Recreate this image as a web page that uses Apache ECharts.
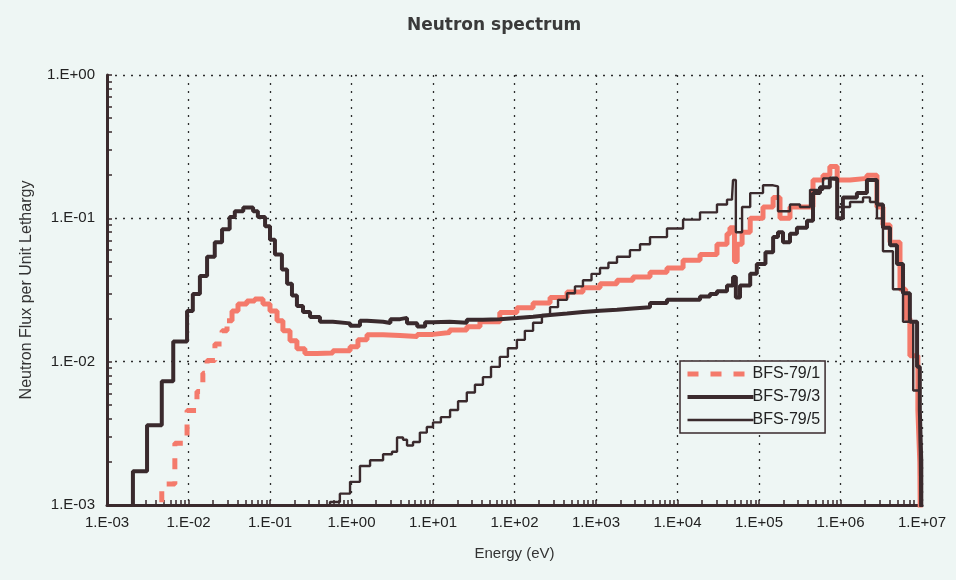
<!DOCTYPE html>
<html>
<head>
<meta charset="utf-8">
<script src="https://cdn.jsdelivr.net/npm/echarts@6/dist/echarts.min.js"></script>
<style>
  html, body { margin: 0; padding: 0; background: #eef6f4; }
  #chart { width: 956px; height: 580px; }
</style>
</head>
<body>
<div id="chart"></div>
<script>
// Axis tick labels (one per decade)
const energyTickLabels = ['1.E-03', '1.E-02', '1.E-01', '1.E+00', '1.E+01', '1.E+02',
                          '1.E+03', '1.E+04', '1.E+05', '1.E+06', '1.E+07'];
const fluxTickLabels = ['1.E-03', '1.E-02', '1.E-01', '1.E+00'];

const seriesNames = ['BFS-79/1', 'BFS-79/3', 'BFS-79/5'];

// BFS-79/1 : group left-edge energy (eV) and flux per unit lethargy
const bfs1Energy = [4.7e-3, 4.7e-3, 6.8e-3, 9.6e-3, 1.27e-2, 1.5e-2, 1.69e-2, 2.11e-2, 2.58e-2, 2.97e-2,
  3.42e-2, 4.05e-2, 5.2e-2, 6.5e-2, 8.2e-2, 0.1, 0.122, 0.144, 0.176, 0.214, 0.268, 0.377, 0.59, 0.96,
  1.2, 1.55, 2.44, 3.94, 6.4, 10, 16, 26, 37.7, 66, 107, 169, 273, 441, 692, 1120, 1810, 2840, 4600,
  7430, 1.17e4, 1.89e4, 3.05e4, 4.05e4, 4.4e4, 5.0e4, 5.4e4, 6.2e4, 7.8e4, 1.12e5, 1.49e5, 1.81e5,
  2.4e5, 3.47e5, 4.6e5, 6.1e5, 7.4e5, 9.1e5, 1.31e6, 2.11e6, 2.8e6, 3.32e6, 4.05e6, 5.37e6, 6.3e6,
  7.1e6, 8.9e6, 9.4e6, 9.6e6];
const bfs1Flux = [5e-4, 1.4e-3, 2.7e-3, 4.57e-3, 6.2e-3, 8.3e-3, 1.02e-2, 1.33e-2, 1.64e-2, 1.93e-2,
  2.26e-2, 2.53e-2, 2.65e-2, 2.74e-2, 2.53e-2, 2.26e-2, 1.93e-2, 1.64e-2, 1.4e-2, 1.23e-2, 1.14e-2,
  1.15e-2, 1.19e-2, 1.27e-2, 1.42e-2, 1.54e-2, 1.52e-2, 1.5e-2, 1.55e-2, 1.6e-2, 1.66e-2, 1.75e-2,
  1.9e-2, 2.2e-2, 2.38e-2, 2.57e-2, 2.8e-2, 3.06e-2, 3.28e-2, 3.5e-2, 3.7e-2, 3.9e-2, 4.2e-2, 4.5e-2,
  5.1e-2, 5.6e-2, 6.6e-2, 7.8e-2, 8.6e-2, 5.0e-2, 6.6e-2, 8.0e-2, 0.1, 0.12, 0.14, 0.1, 0.12, 0.12,
  0.185, 0.2, 0.23, 0.185, 0.19, 0.2, 0.12, 0.09, 0.068, 0.032, 0.02, 0.011, 0.0046, 0.002, 5e-4];
// thermal groups of BFS-79/1 drawn dashed, the rest solid
const bfs1DashedUpTo = 2.97e-2;

// BFS-79/3
const bfs3Energy = [2.08e-3, 2.08e-3, 3.1e-3, 4.7e-3, 6.5e-3, 9.6e-3, 1.13e-2, 1.38e-2, 1.69e-2, 2.1e-2,
  2.58e-2, 3.2e-2, 3.7e-2, 4.7e-2, 6.2e-2, 7.1e-2, 8.7e-2, 0.1, 0.115, 0.14, 0.162, 0.186, 0.214,
  0.254, 0.31, 0.41, 0.59, 0.96, 1.27, 1.55, 2.44, 3.0, 3.94, 4.8, 6.4, 8.0, 10, 16, 26, 41, 66, 107,
  169, 273, 441, 692, 1120, 1810, 2840, 4600, 7430, 1.17e4, 1.89e4, 2.5e4, 3.05e4, 4.05e4, 4.8e4,
  5.2e4, 5.85e4, 7.8e4, 9.4e4, 1.2e5, 1.49e5, 1.71e5, 1.97e5, 2.4e5, 2.92e5, 3.88e5, 4.6e5, 5.6e5,
  7.4e5, 9.1e5, 1.07e6, 1.59e6, 2.11e6, 2.8e6, 3.32e6, 4.05e6, 4.93e6, 5.85e6, 7.1e6, 8.7e6, 9.4e6,
  9.8e6, 9.8e6];
const bfs3Flux = [5e-4, 1.72e-3, 3.6e-3, 7.3e-3, 1.38e-2, 2.26e-2, 2.97e-2, 3.96e-2, 5.4e-2, 6.8e-2,
  8.4e-2, 0.102, 0.112, 0.119, 0.112, 0.102, 0.088, 0.071, 0.056, 0.044, 0.035, 0.029, 0.0245, 0.0222,
  0.0205, 0.019, 0.0185, 0.0178, 0.0193, 0.019, 0.0186, 0.0198, 0.0202, 0.0185, 0.0176, 0.0188, 0.019,
  0.0187, 0.0196, 0.0198, 0.0202, 0.0206, 0.0212, 0.0217, 0.0222, 0.0227, 0.023, 0.0235, 0.024,
  0.0257, 0.027, 0.027, 0.0285, 0.0296, 0.031, 0.034, 0.039, 0.028, 0.034, 0.041, 0.048, 0.058, 0.074,
  0.08, 0.068, 0.078, 0.086, 0.096, 0.15, 0.165, 0.19, 0.1, 0.14, 0.15, 0.185, 0.125, 0.086, 0.065,
  0.048, 0.03, 0.019, 0.0092, 0.0046, 0.002, 5e-4];

// BFS-79/5
const bfs5Energy = [0.545, 0.545, 0.72, 0.96, 1.27, 1.69, 2.44, 3.14, 3.62, 4.29, 4.8, 5.69, 6.9, 8.4,
  10, 12.5, 16.2, 20.3, 26, 32.7, 41, 51.5, 66, 83, 107, 134, 169, 217, 273, 342, 441, 552, 692, 881,
  1120, 1420, 1810, 2610, 3470, 4600, 7430, 1.17e4, 1.89e4, 3.05e4, 4.05e4, 4.67e4, 4.8e4, 5.2e4,
  6.2e4, 7.8e4, 1.12e5, 1.49e5, 1.71e5, 2.4e5, 3.18e5, 4.23e5, 6.1e5, 7.4e5, 9.1e5, 1.31e6, 1.89e6,
  2.3e6, 2.8e6, 3.32e6, 4.4e6, 5.85e6, 7.8e6, 9.4e6, 9.7e6];
const bfs5Flux = [5e-4, 1.05e-3, 1.2e-3, 1.45e-3, 1.87e-3, 2.05e-3, 2.26e-3, 2.35e-3, 2.96e-3, 2.85e-3,
  2.6e-3, 2.75e-3, 3.2e-3, 3.5e-3, 3.77e-3, 4.1e-3, 4.6e-3, 5.3e-3, 6.1e-3, 6.9e-3, 7.8e-3, 9.2e-3,
  1.08e-2, 1.24e-2, 1.42e-2, 1.64e-2, 1.87e-2, 2.12e-2, 2.4e-2, 2.7e-2, 3.0e-2, 3.35e-2, 3.7e-2,
  4.1e-2, 4.5e-2, 4.9e-2, 5.4e-2, 6.0e-2, 6.6e-2, 7.4e-2, 0.085, 0.098, 0.11, 0.125, 0.135, 0.14,
  0.185, 0.08, 0.12, 0.15, 0.17, 0.167, 0.112, 0.125, 0.12, 0.158, 0.19, 0.185, 0.12, 0.13, 0.14,
  0.13, 0.1, 0.059, 0.032, 0.019, 0.0063, 0.0028, 5e-4];

const zip = (xs, ys) => xs.map((x, i) => [x, ys[i]]);
const bfs1Points = zip(bfs1Energy, bfs1Flux);
const splitIdx = bfs1Energy.findIndex(e => e > bfs1DashedUpTo);
const bfs1Thermal = bfs1Points.slice(0, splitIdx);
const bfs1Rest = bfs1Points.slice(splitIdx - 1);

const ink = '#3a2a2d';
const salmon = '#f47a6b';
const font = "'Liberation Sans', Arial, sans-serif";

// log-spaced tick marks (1..9 x 10^k) in log10 units for the overlay axes
function logTicks(lo, hi) {
  const out = [];
  for (let k = lo; k < hi; k++) {
    for (let m = 1; m <= 9; m++) out.push(k + Math.log10(m));
  }
  out.push(hi);
  return out;
}

const decadeLabel = (labels, offset) => v => {
  const idx = Math.round(Math.log10(v)) + offset;
  return labels[idx] !== undefined ? labels[idx] : '';
};

const gridLine = { show: true, lineStyle: { color: '#2d2d2d', width: 1.3, type: [2, 6] } };

const chart = echarts.init(document.getElementById('chart'), null, { renderer: 'canvas' });
chart.setOption({
  animation: false,
  backgroundColor: '#eef6f4',
  title: {
    text: 'Neutron spectrum',
    left: 402, top: 12,
    textStyle: { fontFamily: "'DejaVu Sans', sans-serif", fontSize: 17, fontWeight: 'bold', color: '#3a3a3a' }
  },
  grid: { left: 107, right: 34, top: 75, bottom: 75, containLabel: false },
  legend: {
    data: seriesNames,
    orient: 'vertical',
    left: 680, top: 361,
    itemWidth: 66, itemHeight: 14, itemGap: 7,
    padding: [5, 5, 5, 5],
    borderColor: ink, borderWidth: 1.5,
    backgroundColor: '#eef6f4',
    itemStyle: { opacity: 0 },
    lineStyle: { width: 'inherit' },
    textStyle: { fontFamily: font, fontSize: 16, color: '#222', padding: [0, 0, 0, -6] }
  },
  xAxis: [{
    type: 'log', logBase: 10, min: 1e-3, max: 1e7, interval: 1,
    name: 'Energy (eV)', nameLocation: 'middle', nameGap: 41,
    nameTextStyle: { fontFamily: font, fontSize: 15, color: '#333' },
    axisLine: { show: true, onZero: false, lineStyle: { color: ink, width: 3 } },
    axisTick: { show: false },
    axisLabel: { formatter: decadeLabel(energyTickLabels, 3), fontFamily: font, fontSize: 15, color: '#222', margin: 10 },
    splitLine: gridLine,
    minorTick: { show: false }
  }, {
    type: 'value', min: -3, max: 7, position: 'bottom',
    axisLine: { show: false, onZero: false },
    axisLabel: { show: false },
    splitLine: { show: false },
    axisTick: { show: true, inside: true, length: 5, customValues: logTicks(-3, 7), lineStyle: { color: ink, width: 1.5 } }
  }],
  yAxis: [{
    type: 'log', logBase: 10, min: 1e-3, max: 1, interval: 1,
    name: 'Neutron Flux per Unit Lethargy', nameLocation: 'middle', nameGap: 72,
    nameTextStyle: { fontFamily: font, fontSize: 16, color: '#333' },
    axisLine: { show: true, onZero: false, lineStyle: { color: ink, width: 3 } },
    axisTick: { show: false },
    axisLabel: { formatter: decadeLabel(fluxTickLabels, 3), fontFamily: font, fontSize: 15, color: '#222', margin: 12 },
    splitLine: gridLine
  }, {
    type: 'value', min: -3, max: 0, position: 'left',
    axisLine: { show: false, onZero: false },
    axisLabel: { show: false },
    splitLine: { show: false },
    axisTick: { show: true, inside: true, length: 5, customValues: logTicks(-3, 0), lineStyle: { color: ink, width: 1.5 } }
  }],
  series: [{
    name: 'BFS-79/1', type: 'line', step: 'end', data: bfs1Thermal,
    showSymbol: false, symbol: 'none', clip: true,
    lineStyle: { color: salmon, width: 5, type: [11, 12] }, itemStyle: { color: salmon }, z: 2
  }, {
    name: 'BFS-79/1', type: 'line', step: 'end', data: bfs1Rest,
    showSymbol: false, symbol: 'none', clip: true,
    lineStyle: { color: salmon, width: 5 }, itemStyle: { color: salmon }, z: 2
  }, {
    name: 'BFS-79/3', type: 'line', step: 'end', data: zip(bfs3Energy, bfs3Flux),
    showSymbol: false, symbol: 'none', clip: true,
    lineStyle: { color: ink, width: 4 }, itemStyle: { color: ink }, z: 3
  }, {
    name: 'BFS-79/5', type: 'line', step: 'end', data: zip(bfs5Energy, bfs5Flux),
    showSymbol: false, symbol: 'none', clip: true,
    lineStyle: { color: ink, width: 2.4 }, itemStyle: { color: ink }, z: 4
  }]
});
</script>
</body>
</html>
